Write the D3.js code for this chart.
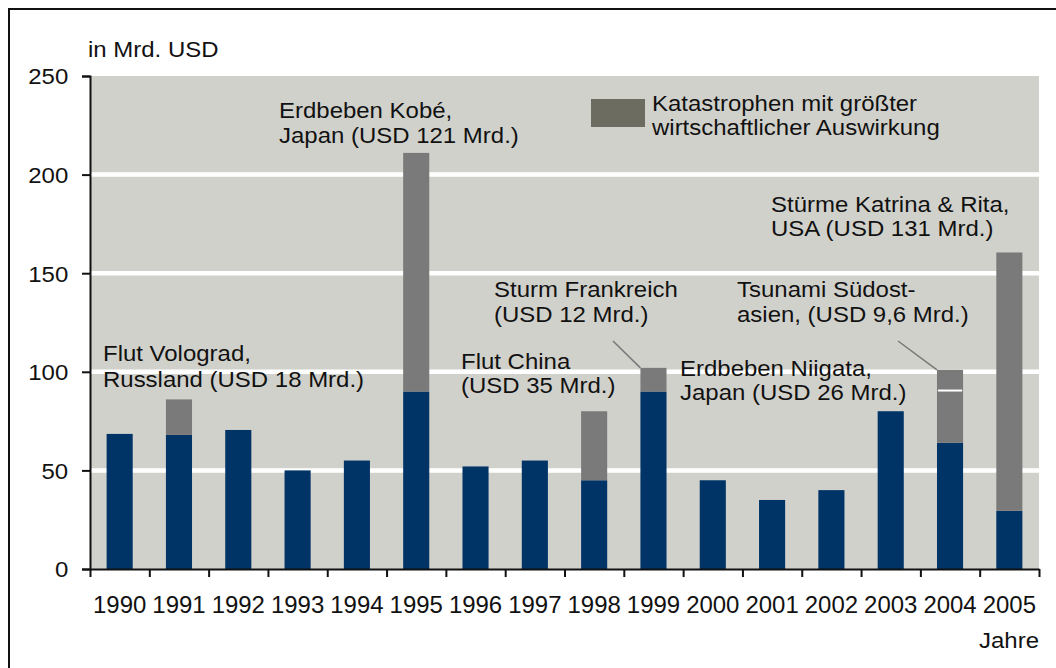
<!DOCTYPE html>
<html><head><meta charset="utf-8">
<script src="https://cdn.jsdelivr.net/npm/d3@7"></script>
<style>
html,body{margin:0;padding:0;background:#fff;}
svg text{font-family:"Liberation Sans",Arial,Helvetica,sans-serif;fill:#111;}
</style></head>
<body><svg id="c" width="1056" height="668"></svg>
<script>
const years = ["1990","1991","1992","1993","1994","1995","1996","1997","1998","1999","2000","2001","2002","2003","2004","2005"];
const baseLosses = [68.5,68,70.5,50,55,90,52,55,45,90,45,35,40,80,64,29.5];
const majorLossesA = [0,18,0,0,0,121,0,0,35,12,0,0,0,0,26.5,131];
const majorLossesB = [0,0,0,0,0,0,0,0,0,0,0,0,0,0,10.5,0];
const yTicks = [0,50,100,150,200,250];
const legendLabel = ["Katastrophen mit größter","wirtschaftlicher Auswirkung"];
const annotations = [
  {lines:["Erdbeben Kobé,","Japan (USD 121 Mrd.)"], x:279, y:118, dy:25},
  {lines:["Stürme Katrina & Rita,","USA (USD 131 Mrd.)"], x:771, y:212, dy:24},
  {lines:["Sturm Frankreich","(USD 12 Mrd.)"], x:494, y:297, dy:25, leader:{year:"1999", x:613, y:341}},
  {lines:["Tsunami Südost-","asien, (USD 9,6 Mrd.)"], x:737, y:297, dy:25, leader:{year:"2004", x:898, y:341}},
  {lines:["Flut Volograd,","Russland (USD 18 Mrd.)"], x:103, y:361, dy:26},
  {lines:["Flut China","(USD 35 Mrd.)"], x:461, y:369, dy:24},
  {lines:["Erdbeben Niigata,","Japan (USD 26 Mrd.)"], x:680, y:376, dy:24}
];

const SX = 1.09;
const svg = d3.select("#c");
const L = 90, R = 1039, T = 76, B = 569;
const x = d3.scaleBand().domain(years).range([L,R]).paddingInner(0.56).paddingOuter(0.28);
const y = d3.scaleLinear().domain([0,250]).range([B,T]);

// outer frame (only top/left visible)
svg.append("rect").attr("x",9).attr("y",9).attr("width",1200).attr("height",900)
  .attr("fill","none").attr("stroke","#111").attr("stroke-width",2);

// plot background
svg.append("rect").attr("x",L).attr("y",y(250)).attr("width",R-L).attr("height",B-y(250)).attr("fill","#d1d1cc");

// gridlines
svg.append("g").selectAll("line").data(yTicks.filter(d=>d>0&&d<250)).join("line")
  .attr("x1",L).attr("x2",R).attr("y1",d=>y(d)).attr("y2",d=>y(d))
  .attr("stroke","#fff").attr("stroke-width",4.5);

// stacked bars
const rows = years.map((yr,i)=>({year:yr, base:baseLosses[i], a:majorLossesA[i], b:majorLossesB[i]}));
const stack = d3.stack().keys(["base","a","b"])(rows);
const colors = {base:"#003366", a:"#7a7a7a", b:"#7a7a7a"};
svg.append("g").selectAll("g").data(stack).join("g").attr("fill",s=>colors[s.key])
  .selectAll("rect").data(s=>s.filter(d=>d[1]-d[0]>0)).join("rect")
  .attr("x",d=>x(d.data.year)).attr("width",x.bandwidth())
  .attr("y",d=>y(d[1])).attr("height",d=>y(d[0])-y(d[1]));
// separator between stacked catastrophe segments
svg.append("g").selectAll("line").data(stack[2].filter(d=>d[1]-d[0]>0)).join("line")
  .attr("x1",d=>x(d.data.year)+1).attr("x2",d=>x(d.data.year)+x.bandwidth()-1)
  .attr("y1",d=>y(d[0])).attr("y2",d=>y(d[0]))
  .attr("stroke","#fff").attr("stroke-width",2);

// y axis
const yAx = svg.append("g").attr("transform",`translate(${L},0)`)
  .call(d3.axisLeft(y).tickValues(yTicks).tickSize(8).tickSizeOuter(8));
yAx.select(".domain").attr("stroke","#111").attr("stroke-width",2);
yAx.selectAll(".tick line").attr("stroke","#111").attr("stroke-width",2);
yAx.selectAll(".tick text").attr("font-size",22).attr("x",-20).attr("dy","0.36em")
  .attr("transform",`scale(${SX},1)`).style("fill","#111");

// x axis: tick marks at band boundaries
const bnd = d3.scaleLinear().domain([0,years.length]).range([L,R]);
const xAxTicks = svg.append("g").attr("transform",`translate(0,${B})`)
  .call(d3.axisBottom(bnd).tickValues(d3.range(years.length+1)).tickSize(8).tickSizeOuter(0).tickFormat(""));
xAxTicks.select(".domain").attr("stroke","#111").attr("stroke-width",2);
xAxTicks.selectAll(".tick line").attr("stroke","#111").attr("stroke-width",2);
const xAx = svg.append("g").attr("transform",`translate(0,${B})`)
  .call(d3.axisBottom(x).tickSize(0));
xAx.select(".domain").remove();
xAx.selectAll(".tick text").attr("font-size",23.5).attr("y",44).attr("dy","0").style("fill","#111")
  .attr("transform","scale(1.02,1)");

// helper for stretched text
function label(g, tx, ty, str, anchor){
  return g.append("text").attr("transform",`translate(${tx},${ty}) scale(${SX},1)`)
    .attr("font-size",22).attr("text-anchor",anchor||"start").text(str);
}
label(svg, 88, 57, "in Mrd. USD");
label(svg, 1039, 648, "Jahre", "end");

// legend
svg.append("rect").attr("x",591).attr("y",99).attr("width",54).attr("height",28).attr("fill","#6c6d60");
legendLabel.forEach((t,i)=>label(svg, 652, 111+i*24, t));

// annotations
const ann = svg.append("g");
annotations.forEach(a=>{
  a.lines.forEach((t,i)=>label(ann, a.x, a.y+i*a.dy, t));
  if(a.leader){
    const i = years.indexOf(a.leader.year);
    const top = baseLosses[i]+majorLossesA[i]+majorLossesB[i];
    ann.append("line").attr("x1",a.leader.x).attr("y1",a.leader.y)
      .attr("x2",x(a.leader.year)).attr("y2",y(top))
      .attr("stroke","#777").attr("stroke-width",1.5);
  }
});
</script></body></html>
